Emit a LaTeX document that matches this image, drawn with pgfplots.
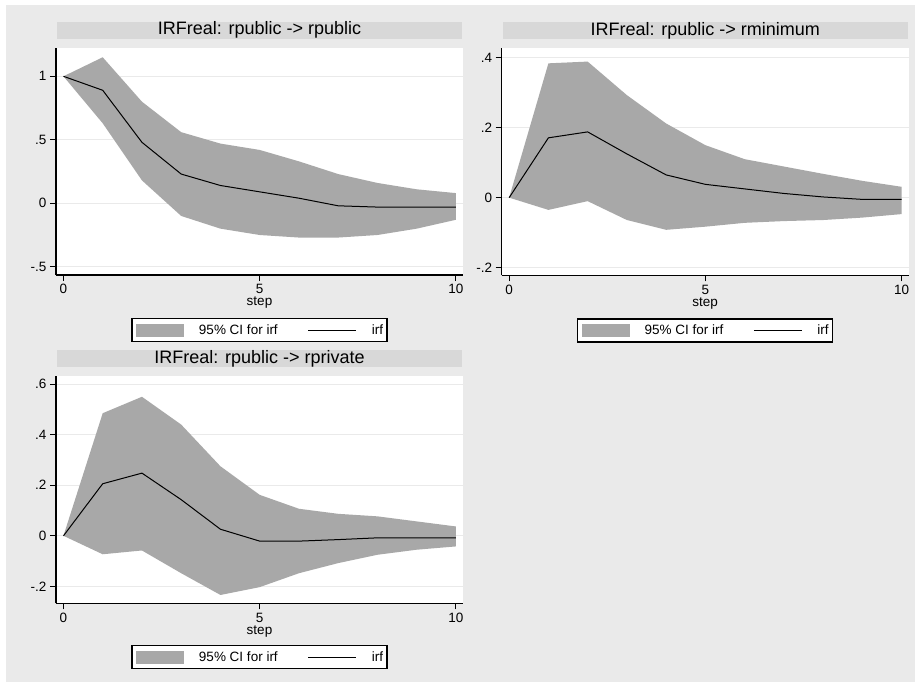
\documentclass[border=0pt]{standalone}
\usepackage{fontspec}
\setmainfont{Liberation Sans}
\usepackage{pgfplots}
\pgfplotsset{compat=1.18}
\usepackage{pgfplotstable}

\definecolor{bggray}{RGB}{234,234,234}
\definecolor{titlegray}{RGB}{216,216,216}
\definecolor{bandgray}{RGB}{168,168,168}
\definecolor{gridgray}{RGB}{234,234,234}

% irf by step
\pgfplotstableread{
step irf
0 1.00
1 0.89
2 0.48
3 0.23
4 0.14
5 0.09
6 0.04
7 -0.02
8 -0.03
9 -0.03
10 -0.03
}\irfA
\pgfplotstableread{
step irf
0 0
1 0.171
2 0.188
3 0.125
4 0.065
5 0.038
6 0.025
7 0.012
8 0.002
9 -0.005
10 -0.005
}\irfB
\pgfplotstableread{
step irf
0 0
1 0.206
2 0.248
3 0.143
4 0.026
5 -0.021
6 -0.021
7 -0.015
8 -0.008
9 -0.008
10 -0.008
}\irfC

\pgfplotsset{
  irfpanel/.style={
    scale only axis, width=407pt, height=227pt,
    axis lines*=left,
    axis line style={line width=1.2pt, black},
    tick style={line width=1pt, black},
    tick align=outside, major tick length=6pt,
    xmin=-0.19, xmax=10.18, xtick={0,5,10},
    ymajorgrids, grid style={gridgray, line width=1pt},
    axis background/.style={fill=white},
    tick label style={font=\fontsize{13.5}{15}\selectfont},
    /pgf/number format/assume math mode=true,
    xlabel={step},
    xlabel style={font=\fontsize{13.5}{15}\selectfont, at={(axis description cs:0.5,0)}, anchor=center, yshift=-28pt},
    title style={at={(0.5,1)}, anchor=south, yshift=3pt, fill=titlegray,
      minimum width=405pt, minimum height=17pt, inner sep=0pt,
      font=\fontsize{18}{20}\selectfont},
    legend columns=2,
    legend style={anchor=north, draw=black, line width=1.4pt, fill=white,
      inner xsep=4pt, inner ysep=5pt, font=\fontsize{13.5}{15}\selectfont,
      nodes={inner sep=0pt},
      /tikz/every odd column/.append style={column sep=15pt},
      /tikz/every even column/.append style={column sep=30pt}},
  },
  band/.style={fill=bandgray, draw=none, legend image code/.code={\fill[bandgray] (0pt,-6.5pt) rectangle (48pt,6.5pt);}},
  irfline/.style={black, line width=1pt, legend image code/.code={\draw[black, line width=1pt] (0pt,0pt) -- (48pt,0pt);}},
}

\begin{document}
\begin{tikzpicture}
\fill[white] (0pt,0pt) rectangle (921pt,-687pt);
\fill[bggray] (6pt,-5pt) rectangle (915pt,-682pt);

\begin{axis}[irfpanel, at={(56pt,-275pt)}, anchor=south west,
  ymin=-0.565, ymax=1.223, ytick={-0.5,0,0.5,1}, yticklabels={-.5,0,.5,1},
  title={IRFreal: rpublic -> rpublic}, legend style={at={(0.5,-0.189)}}]
% 95% band: upper bound for steps 0..10, then lower bound for steps 10..0
\addplot[band] coordinates {
  (0,1.00)(1,1.15)(2,0.80)(3,0.56)(4,0.47)(5,0.42)(6,0.33)(7,0.23)(8,0.16)(9,0.11)(10,0.08)
  (10,-0.13)(9,-0.20)(8,-0.25)(7,-0.27)(6,-0.27)(5,-0.25)(4,-0.20)(3,-0.10)(2,0.18)(1,0.63)(0,1.00)
} -- cycle;
\addlegendentry{95\% CI for irf}
\addplot[irfline] table[x=step, y=irf]{\irfA};
\addlegendentry{irf}
\end{axis}

\begin{axis}[irfpanel, at={(501.7pt,-275.3pt)}, anchor=south west,
  ymin=-0.222, ymax=0.427, ytick={-0.2,0,0.2,0.4}, yticklabels={-.2,0,.2,.4},
  title={IRFreal: rpublic -> rminimum}, legend style={at={(0.5,-0.189)}}]
\addplot[band] coordinates {
  (0,0)(1,0.384)(2,0.389)(3,0.293)(4,0.212)(5,0.150)(6,0.110)(7,0.089)(8,0.068)(9,0.048)(10,0.031)
  (10,-0.047)(9,-0.057)(8,-0.064)(7,-0.067)(6,-0.072)(5,-0.083)(4,-0.092)(3,-0.064)(2,-0.010)(1,-0.035)(0,0)
} -- cycle;
\addlegendentry{95\% CI for irf}
\addplot[irfline] table[x=step, y=irf]{\irfB};
\addlegendentry{irf}
\end{axis}

\begin{axis}[irfpanel, at={(56pt,-603.3pt)}, anchor=south west,
  ymin=-0.267, ymax=0.631, ytick={-0.2,0,0.2,0.4,0.6}, yticklabels={-.2,0,.2,.4,.6},
  title={IRFreal: rpublic -> rprivate}, legend style={at={(0.5,-0.184)}}]
\addplot[band] coordinates {
  (0,0)(1,0.485)(2,0.550)(3,0.440)(4,0.275)(5,0.162)(6,0.107)(7,0.087)(8,0.077)(9,0.057)(10,0.037)
  (10,-0.042)(9,-0.055)(8,-0.075)(7,-0.108)(6,-0.148)(5,-0.203)(4,-0.234)(3,-0.148)(2,-0.058)(1,-0.073)(0,0)
} -- cycle;
\addlegendentry{95\% CI for irf}
\addplot[irfline] table[x=step, y=irf]{\irfC};
\addlegendentry{irf}
\end{axis}
\end{tikzpicture}
\end{document}
